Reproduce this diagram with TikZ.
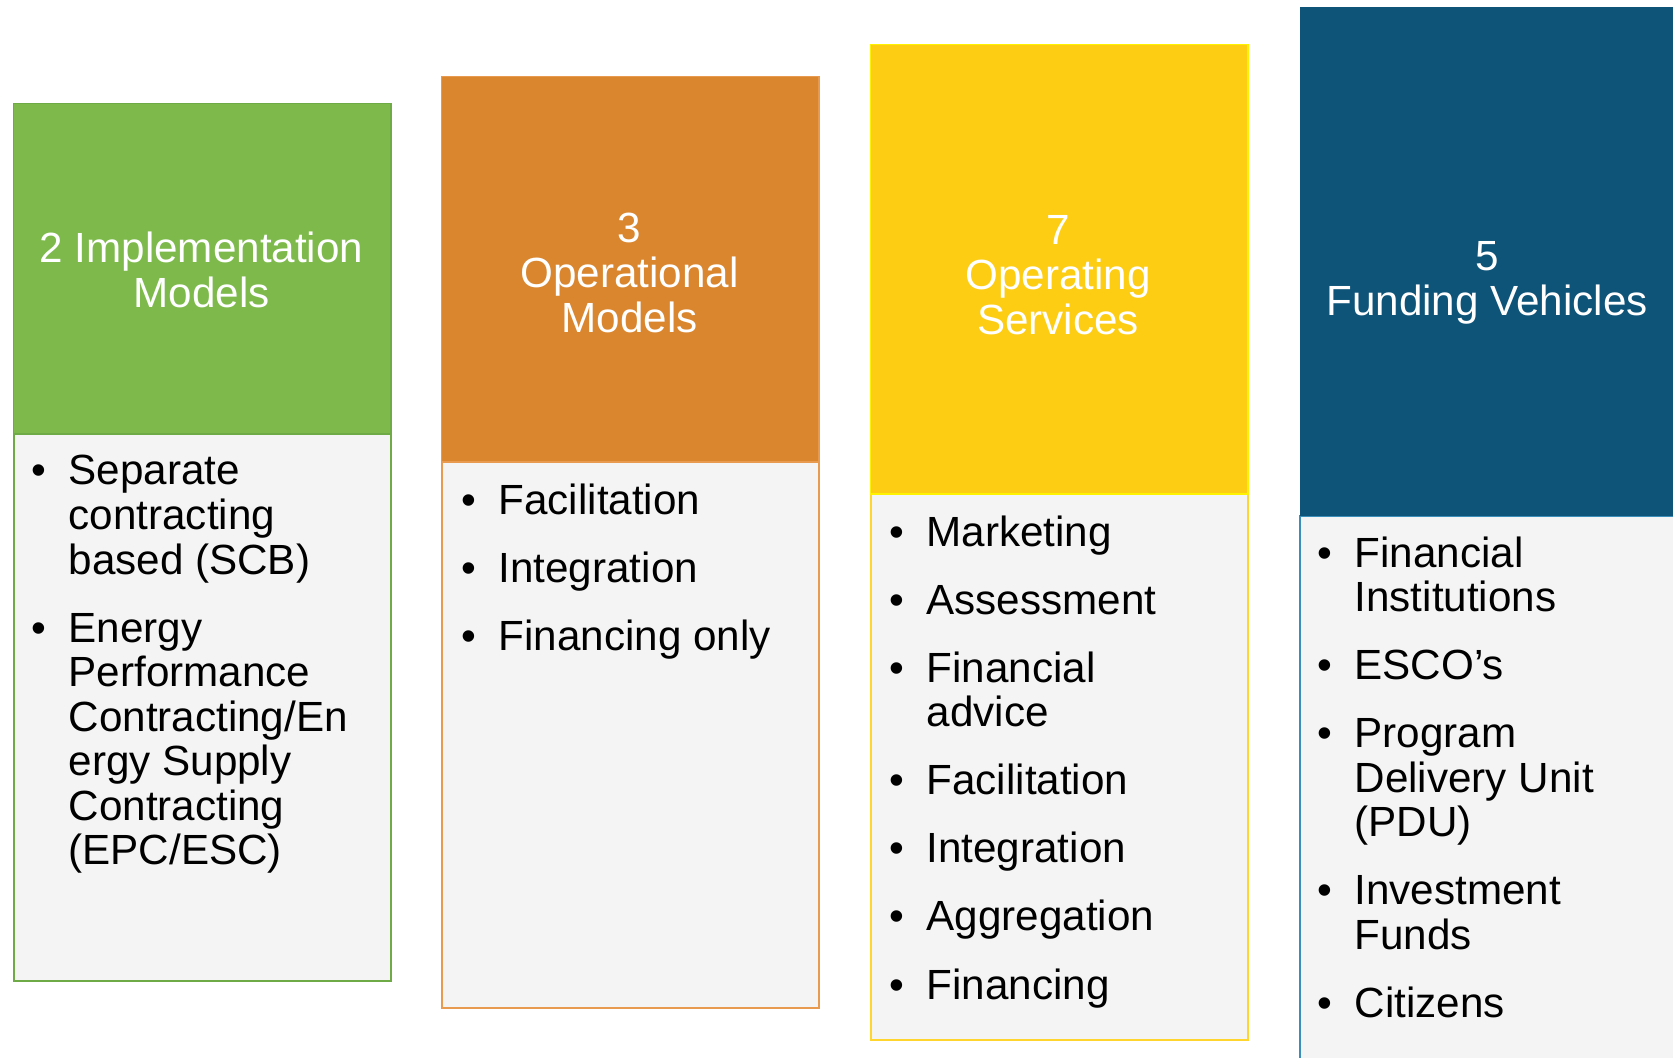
\documentclass[tikz,border=0pt]{standalone}
\usepackage{fontspec}
\setmainfont{Liberation Sans}

\definecolor{implgreen}{HTML}{7DBA4B}
\definecolor{implline}{HTML}{6EAA45}
\definecolor{operorange}{HTML}{D9862F}
\definecolor{operline}{HTML}{E89A4E}
\definecolor{servyellow}{HTML}{FDCD13}
\definecolor{servline}{HTML}{FFD52E}
\definecolor{fundblue}{HTML}{0E5479}
\definecolor{fundline}{HTML}{3A8EBA}
\definecolor{panelgrey}{HTML}{F4F4F4}

\newcommand{\bulletmark}{\makebox[10.5pt][l]{\textbullet}}

\tikzset{
  head/.style={fill=#1, anchor=north west, inner sep=0pt, minimum width=3.77cm},
  panel/.style={draw=#1, fill=panelgrey, line width=0.6pt, anchor=north west,
    inner sep=0pt, minimum width=3.77cm},
  title/.style={text=white, anchor=base, inner sep=0pt},
  items/.style={anchor=base west, inner sep=0pt},
}

\begin{document}
\begin{tikzpicture}[x=0.01cm,y=-0.01cm,font=\fontsize{12}{12.66}\selectfont]
\useasboundingbox (0,0) rectangle (1673,1058);
\clip (0,0) rectangle (1673,1058);

% implementation models
\node[panel=implline, minimum height=5.47cm] (impl body) at (13,433) {};
\node[head=implgreen, draw=implline, line width=0.4pt, minimum height=3.30cm] (impl head) at (13,103) {};
\node[title] (impl title) at (201.5,263)
  {\begin{tabular}[t]{@{}c@{}}2 Implementation\\ Models\end{tabular}};
\node[items] (impl list) at (31,485)
  {\begin{tabular}[t]{@{}l@{}l@{}}
   \bulletmark & Separate\\ & contracting\\ & based (SCB)\\[6.7pt]
   \bulletmark & Energy\\ & Performance\\ & Contracting/En\\ & ergy Supply\\
               & Contracting\\ & (EPC/ESC)
   \end{tabular}};

% operational models
\node[panel=operline, minimum height=5.46cm] (oper body) at (441,461) {};
\node[head=operorange, draw=operline, line width=0.4pt, minimum height=3.85cm] (oper head) at (441,76) {};
\node[title] (oper title) at (629.5,243)
  {\begin{tabular}[t]{@{}c@{}}3\\ Operational\\ Models\end{tabular}};
\node[items] (oper list) at (461,514)
  {\begin{tabular}[t]{@{}l@{}l@{}}
   \bulletmark & Facilitation\\[6.7pt]
   \bulletmark & Integration\\[6.7pt]
   \bulletmark & Financing only
   \end{tabular}};

% operating services
\node[panel=servline, minimum height=5.46cm] (serv body) at (870,493) {};
\node[head=servyellow, draw=yellow, line width=0.4pt, minimum height=4.49cm] (serv head) at (870,44) {};
\node[title] (serv title) at (1058,245)
  {\begin{tabular}[t]{@{}c@{}}7\\ Operating\\ Services\end{tabular}};
\node[items] (serv list) at (889,546)
  {\begin{tabular}[t]{@{}l@{}l@{}}
   \bulletmark & Marketing\\[6.7pt]
   \bulletmark & Assessment\\[6.7pt]
   \bulletmark & Financial\\ & advice\\[6.7pt]
   \bulletmark & Facilitation\\[6.7pt]
   \bulletmark & Integration\\[6.7pt]
   \bulletmark & Aggregation\\[6.7pt]
   \bulletmark & Financing
   \end{tabular}};

% funding vehicles
\node[panel=fundline, minimum height=5.65cm] (fund body) at (1299,515) {};
\node[head=fundblue, minimum height=5.09cm] (fund head) at (1299,6) {};
\node[title] (fund title) at (1487,271)
  {\begin{tabular}[t]{@{}c@{}}5\\ Funding Vehicles\end{tabular}};
\node[items] (fund list) at (1317,567)
  {\begin{tabular}[t]{@{}l@{}l@{}}
   \bulletmark & Financial\\ & Institutions\\[6.7pt]
   \bulletmark & ESCO’s\\[6.7pt]
   \bulletmark & Program\\ & Delivery Unit\\ & (PDU)\\[6.7pt]
   \bulletmark & Investment\\ & Funds\\[6.7pt]
   \bulletmark & Citizens
   \end{tabular}};
\end{tikzpicture}
\end{document}
